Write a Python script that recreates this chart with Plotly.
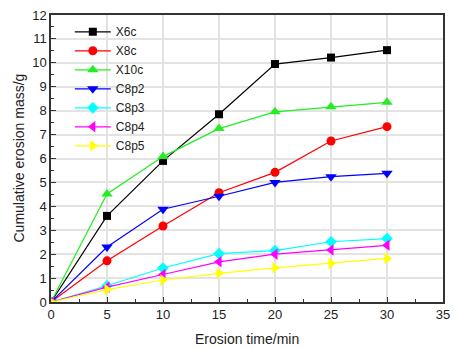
import plotly.graph_objects as go

time_min = [0, 5, 10, 15, 20, 25, 30]
series_names = ["X6c", "X8c", "X10c", "C8p2", "C8p3", "C8p4", "C8p5"]
x6c = [0, 3.6, 5.9, 7.85, 9.95, 10.22, 10.53]
x8c = [0, 1.72, 3.18, 4.57, 5.42, 6.73, 7.33]
x10c = [0, 4.52, 6.08, 7.25, 7.95, 8.16, 8.35]
c8p2 = [0, 2.3, 3.88, 4.42, 5.0, 5.24, 5.38]
c8p3 = [0, 0.68, 1.42, 2.02, 2.15, 2.52, 2.65]
c8p4 = [0, 0.62, 1.15, 1.68, 2.0, 2.17, 2.37]
c8p5 = [0, 0.52, 0.92, 1.2, 1.43, 1.62, 1.82]
x_title = "Erosion time/min"
y_title = "Cumulative erosion mass/g"

values = [x6c, x8c, x10c, c8p2, c8p3, c8p4, c8p5]
colors = ["#000000", "#FF0000", "#22EE22", "#0000FF", "#00FFFF", "#FF00FF", "#FFFF00"]
symbols = ["square", "circle", "triangle-up", "triangle-down", "diamond", "triangle-left", "triangle-right"]
sizes = [8, 9, 10, 10, 9, 10, 10]

fig = go.Figure()
for name, vals, c, s, sz in zip(series_names, values, colors, symbols, sizes):
    fig.add_trace(go.Scatter(
        x=time_min, y=vals, name=name, mode="lines+markers",
        line=dict(color=c, width=1.2),
        marker=dict(color=c, symbol=s, size=sz, line=dict(width=0)),
    ))

font_family = "Liberation Sans, Arial"
axis_common = dict(
    showline=True, linecolor="#333333", linewidth=1.5, mirror=True,
    ticks="inside", ticklen=5, tickcolor="#333333",
    showgrid=True, gridcolor="#E3E3E3", gridwidth=1.5,
    zeroline=False, automargin=False, ticklabeloverflow="allow",
    tickfont=dict(family=font_family, size=13, color="#222222"),
)

fig.update_layout(
    width=454, height=349,
    margin=dict(l=51, r=11, t=15, b=47),
    paper_bgcolor="white", plot_bgcolor="white",
    showlegend=True,
    legend=dict(x=0.048, y=0.992, xanchor="left", yanchor="top",
                bgcolor="rgba(0,0,0,0)",
                font=dict(family=font_family, size=12, color="#222222"),
                tracegroupgap=0, itemwidth=36),
    xaxis=dict(range=[0, 35], dtick=5, tick0=0,
               minor=dict(ticks="inside", ticklen=3, dtick=2.5, tickcolor="#333333", showgrid=False),
               **axis_common),
    yaxis=dict(range=[0, 12], dtick=1, tick0=0,
               minor=dict(ticks="inside", ticklen=3, dtick=0.5, tickcolor="#333333", showgrid=False),
               **axis_common),
    annotations=[
        dict(text=x_title, xref="paper", yref="paper", x=0.5, y=-37 / 287,
             xanchor="center", yanchor="middle", showarrow=False,
             font=dict(family=font_family, size=14, color="#222222")),
        dict(text=y_title, xref="paper", yref="paper", x=-33 / 392, y=0.5,
             xanchor="center", yanchor="middle", showarrow=False, textangle=-90,
             font=dict(family=font_family, size=14, color="#222222")),
    ],
)

fig.write_html("out.html", config={"displayModeBar": False},
               post_script="document.body.style.margin='0';document.body.style.overflow='hidden';")
